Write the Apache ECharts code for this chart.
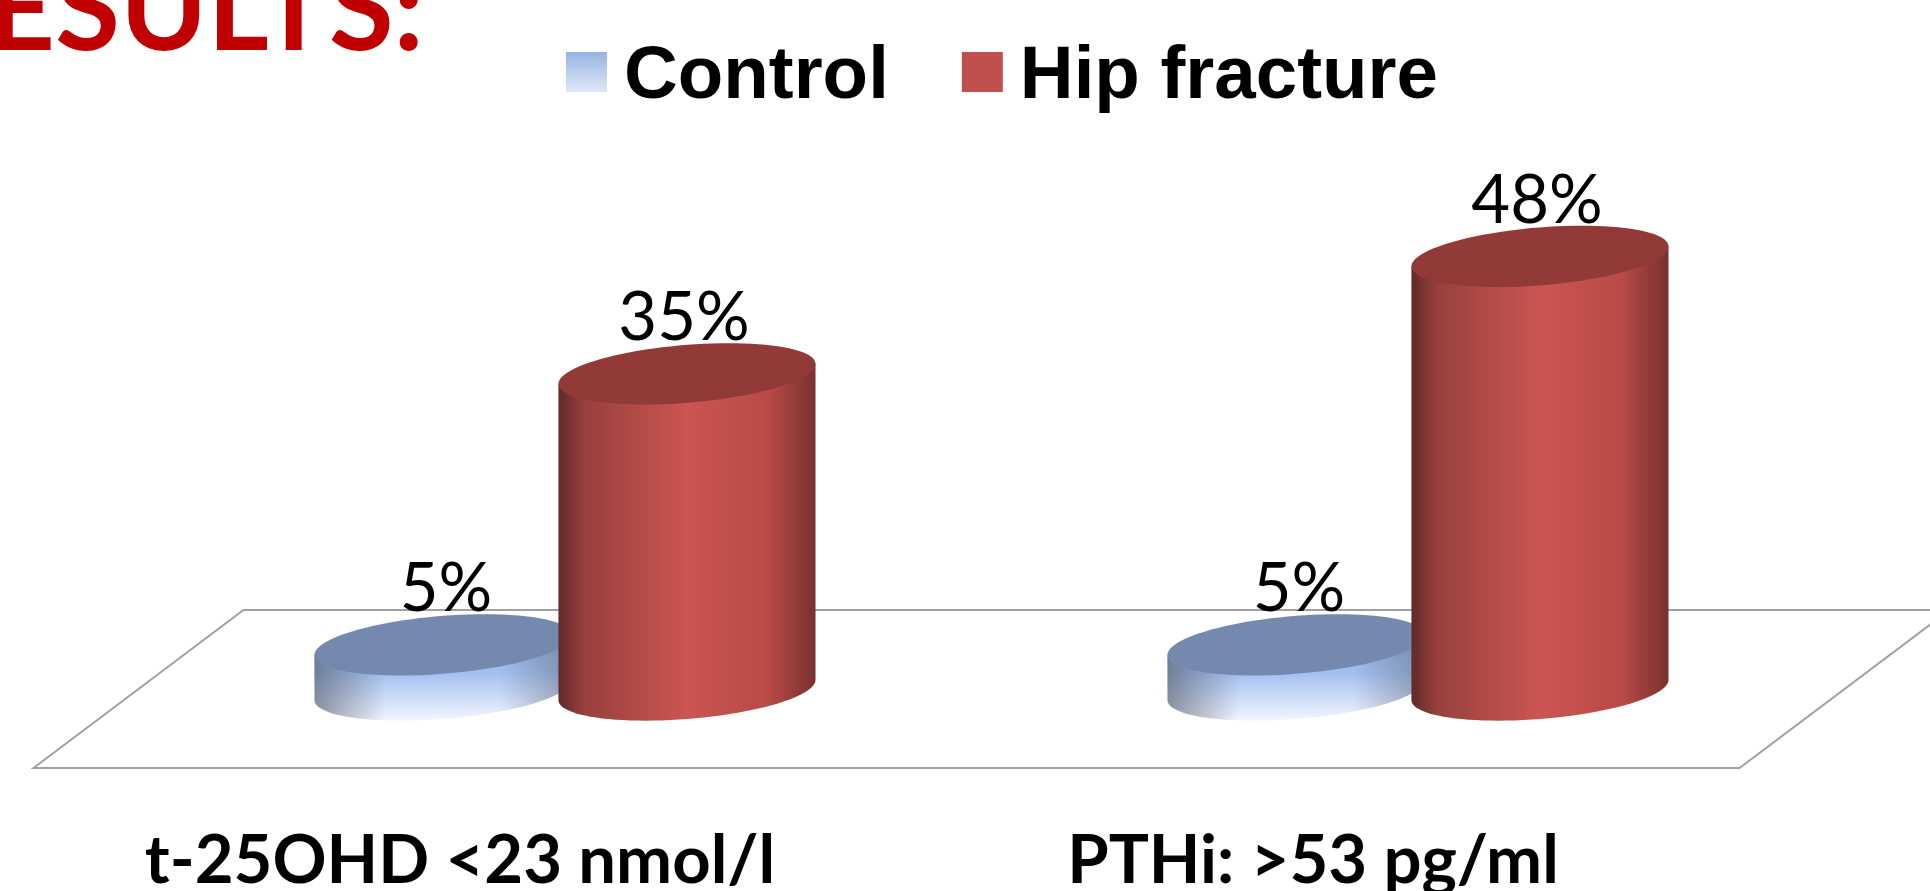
<!DOCTYPE html>
<html>
<head>
<meta charset="utf-8">
<title>Results</title>
<style>
  html, body { margin: 0; padding: 0; background: #fff; overflow: hidden; }
  #chart { width: 1930px; height: 891px; }
</style>
<script src="https://cdn.jsdelivr.net/npm/echarts@6/dist/echarts.min.js"></script>
</head>
<body>
<div id="chart"></div>
<script>
const categories = ['t-25OHD <23 nmol/l', 'PTHi: >53 pg/ml']
const controlValues = [5, 5]
const fractureValues = [35, 48]

const myChart = echarts.init(document.getElementById('chart'))

// sheared ellipse used for the top and the bottom of a cylinder
const TILT = 10
function ellipsePoint(cx, cy, w, t) {
  return [cx + w * Math.cos(t), cy - TILT * Math.cos(t) + 29 * Math.sin(t)]
}

function cylinder(params, api, side, colors) {
  const band = api.size([1, 0])[0]
  const base = api.coord([api.value(0), 0])
  const top = api.coord([api.value(0), api.value(1)])
  const cx = base[0] + side * band * 0.143
  const w = band * 0.1507

  const body = [[cx - w, top[1] + TILT]]
  for (let i = 0; i <= 48; i++) {
    body.push(ellipsePoint(cx, base[1], w, Math.PI - Math.PI * i / 48))
  }
  body.push([cx + w, top[1] - TILT])

  const cap = []
  for (let i = 0; i < 96; i++) {
    cap.push(ellipsePoint(cx, top[1], w, Math.PI * 2 * i / 96))
  }

  const children = [{
    type: 'text',
    style: {
      text: api.value(1) + '%',
      x: cx - side * 3,
      y: top[1] - 22,
      align: 'center',
      verticalAlign: 'bottom',
      font: '67px Lato',
      fill: '#000'
    }
  }]
  colors.body.forEach(function (fill) {
    children.push({ type: 'polygon', shape: { points: body }, style: { fill: fill } })
  })
  children.push({ type: 'polygon', shape: { points: cap }, style: { fill: colors.cap } })
  return { type: 'group', children: children }
}

const grad = echarts.graphic.LinearGradient

const blueColors = {
  cap: '#7589ae',
  body: [
    new grad(0, 0, 0, 1, [
      { offset: 0, color: '#8fb0e6' },
      { offset: 0.45, color: '#a4c0ef' },
      { offset: 1, color: '#f2f6ff' }
    ]),
    new grad(0, 0, 1, 0, [
      { offset: 0, color: 'rgba(70,75,85,0.55)' },
      { offset: 0.28, color: 'rgba(70,75,85,0)' },
      { offset: 0.72, color: 'rgba(70,75,85,0)' },
      { offset: 1, color: 'rgba(70,75,85,0.4)' }
    ])
  ]
}

const redColors = {
  cap: '#923a38',
  body: [
    new grad(0, 0, 1, 0, [
      { offset: 0, color: '#5f2a28' },
      { offset: 0.1, color: '#97403e' },
      { offset: 0.5, color: '#cb5552' },
      { offset: 0.82, color: '#b84a47' },
      { offset: 1, color: '#77322f' }
    ])
  ]
}

const option = {
  animation: false,
  backgroundColor: '#fff',
  title: {
    text: 'RESULTS:',
    right: 1506,
    top: -47,
    padding: 0,
    textStyle: { fontFamily: 'Lato', fontWeight: 'bold', fontSize: 118, color: '#c00000' }
  },
  legend: {
    data: [
      {
        name: 'Control',
        itemStyle: {
          color: new grad(0, 0, 0, 1, [
            { offset: 0, color: '#95b3e3' },
            { offset: 0.78, color: '#dfe7f6' },
            { offset: 1, color: '#dfe7f6' }
          ])
        }
      },
      { name: 'Hip fracture', itemStyle: { color: '#c0504d' } }
    ],
    left: 566,
    top: 40,
    padding: 0,
    // empty tail on the icon keeps the swatch higher than the text centre
    icon: 'path://M0 0H41V40H0ZM0 51L0 51',
    itemWidth: 41,
    itemHeight: 51,
    itemGap: 73,
    textStyle: {
      fontFamily: 'Liberation Sans',
      fontWeight: 'bold',
      fontSize: 74.5,
      color: '#000',
      padding: [0, 0, 0, 12]
    }
  },
  grid: { left: 138.5, width: 1706, top: 148, height: 542, outerBoundsMode: 'none' },
  xAxis: {
    type: 'category',
    data: categories,
    axisLine: { show: false },
    axisTick: { show: false },
    axisLabel: {
      interval: 0,
      margin: 138,
      // labels sit under the front edge of the floor
      padding: [0, 210, 0, 0],
      fontFamily: 'Lato',
      fontWeight: 'bold',
      fontSize: 67,
      color: '#000'
    }
  },
  yAxis: { type: 'value', min: 0, max: 60, show: false, splitLine: { show: false } },
  series: [
    {
      name: 'floor',
      type: 'custom',
      silent: true,
      clip: false,
      data: [[0, 0]],
      encode: { x: 0, y: 1 },
      renderItem: function (params, api) {
        const g = params.coordSys
        const y0 = api.coord([0, 0])[1]
        return {
          type: 'polygon',
          shape: {
            points: [
              [g.x - 105, y0 + 78],
              [g.x + 105, y0 - 80],
              [g.x + g.width + 105, y0 - 80],
              [g.x + g.width - 105, y0 + 78]
            ]
          },
          style: { fill: 'none', stroke: '#a0a0a0', lineWidth: 2 }
        }
      }
    },
    {
      name: 'Control',
      type: 'custom',
      clip: false,
      data: categories.map((c, i) => [i, controlValues[i]]),
      encode: { x: 0, y: 1 },
      renderItem: (params, api) => cylinder(params, api, -1, blueColors)
    },
    {
      name: 'Hip fracture',
      type: 'custom',
      clip: false,
      data: categories.map((c, i) => [i, fractureValues[i]]),
      encode: { x: 0, y: 1 },
      renderItem: (params, api) => cylinder(params, api, 1, redColors)
    }
  ]
}

myChart.setOption(option)
</script>
</body>
</html>
